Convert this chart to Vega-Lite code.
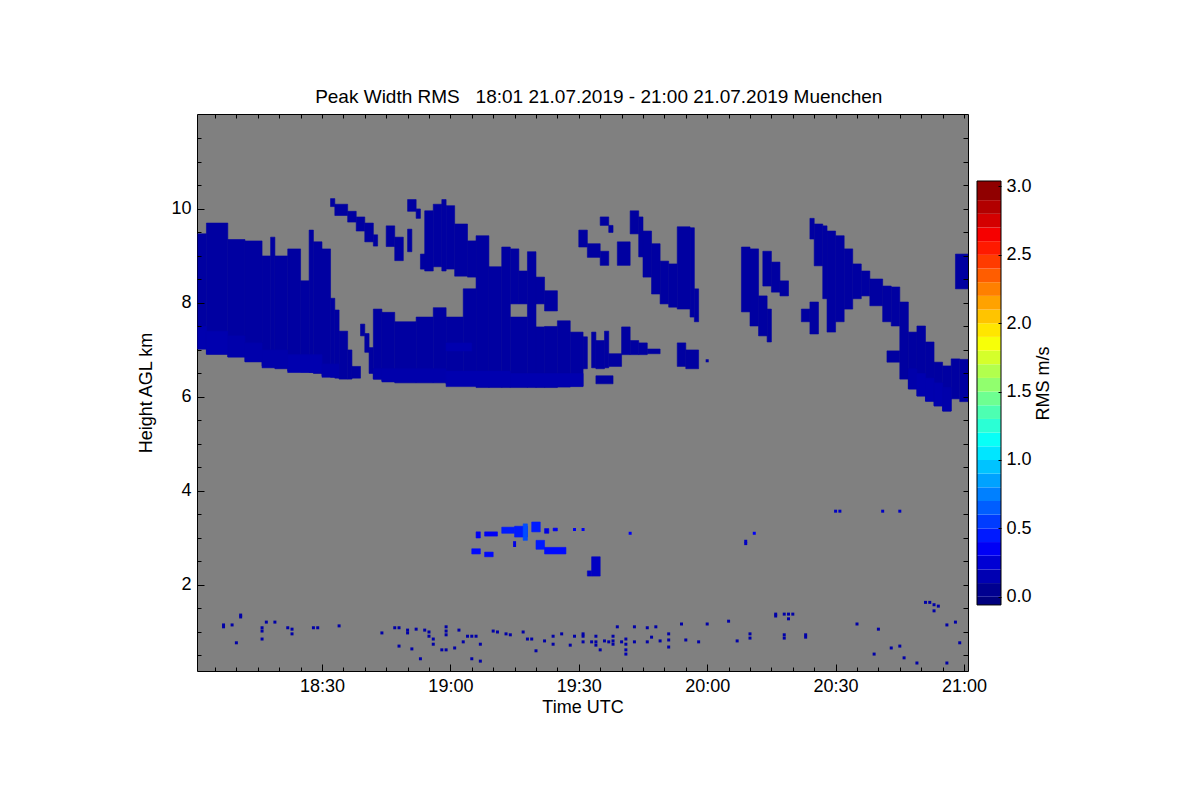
{
  "$schema": "https://vega.github.io/schema/vega-lite/v6.json",
  "padding": {"left": 137, "top": 88, "right": 5, "bottom": 5},
  "background": "white",
  "title": {
    "text": "Peak Width RMS\u00a0\u00a0\u00a018:01 21.07.2019 - 21:00 21.07.2019 Muenchen",
    "font": "Liberation Sans",
    "fontSize": 19,
    "fontWeight": "normal",
    "color": "black",
    "anchor": "middle",
    "dx": 4,
    "offset": 6
  },
  "bounds": "flush",
  "hconcat": [
    {
      "width": 771,
      "height": 557,
      "view": {"fill": "#808080", "stroke": "black", "strokeWidth": 1},
      "layer": [
        {
          "data": {
            "values": [
              {"t0": "18:01", "t1": "18:03", "lo": 7.02, "hi": 9.47, "rms": 0.1},
              {"t0": "18:03", "t1": "18:08", "lo": 6.91, "hi": 9.7, "rms": 0.1},
              {"t0": "18:08", "t1": "18:12", "lo": 6.85, "hi": 9.35, "rms": 0.1},
              {"t0": "18:12", "t1": "18:16", "lo": 6.75, "hi": 9.32, "rms": 0.1},
              {"t0": "18:16", "t1": "18:18", "lo": 6.66, "hi": 9.0, "rms": 0.1},
              {"t0": "18:18", "t1": "18:19", "lo": 6.64, "hi": 9.4, "rms": 0.1},
              {"t0": "18:19", "t1": "18:22", "lo": 6.6, "hi": 9.0, "rms": 0.1},
              {"t0": "18:22", "t1": "18:25", "lo": 6.55, "hi": 9.15, "rms": 0.1},
              {"t0": "18:25", "t1": "18:27", "lo": 6.53, "hi": 8.47, "rms": 0.1},
              {"t0": "18:27", "t1": "18:28", "lo": 6.52, "hi": 9.55, "rms": 0.1},
              {"t0": "18:28", "t1": "18:30", "lo": 6.5, "hi": 9.3, "rms": 0.1},
              {"t0": "18:30", "t1": "18:32", "lo": 6.45, "hi": 9.15, "rms": 0.1},
              {"t0": "18:32", "t1": "18:33", "lo": 6.42, "hi": 8.1, "rms": 0.1},
              {"t0": "18:33", "t1": "18:34", "lo": 6.4, "hi": 7.85, "rms": 0.1},
              {"t0": "18:34", "t1": "18:36", "lo": 6.38, "hi": 7.4, "rms": 0.1},
              {"t0": "18:36", "t1": "18:37", "lo": 6.38, "hi": 7.0, "rms": 0.1},
              {"t0": "18:37", "t1": "18:39", "lo": 6.4, "hi": 6.65, "rms": 0.1},
              {"t0": "18:39", "t1": "18:40", "lo": 7.3, "hi": 7.55, "rms": 0.1},
              {"t0": "18:40", "t1": "18:41", "lo": 6.95, "hi": 7.35, "rms": 0.1},
              {"t0": "18:41", "t1": "18:42", "lo": 6.5, "hi": 7.05, "rms": 0.1},
              {"t0": "18:32", "t1": "18:33", "lo": 10.05, "hi": 10.22, "rms": 0.1},
              {"t0": "18:33", "t1": "18:36", "lo": 9.86, "hi": 10.1, "rms": 0.1},
              {"t0": "18:36", "t1": "18:38", "lo": 9.72, "hi": 9.95, "rms": 0.1},
              {"t0": "18:38", "t1": "18:40", "lo": 9.53, "hi": 9.83, "rms": 0.1},
              {"t0": "18:40", "t1": "18:42", "lo": 9.3, "hi": 9.7, "rms": 0.1},
              {"t0": "18:42", "t1": "18:43", "lo": 9.21, "hi": 9.45, "rms": 0.1},
              {"t0": "18:45", "t1": "18:47", "lo": 9.2, "hi": 9.64, "rms": 0.1},
              {"t0": "18:47", "t1": "18:49", "lo": 8.9, "hi": 9.4, "rms": 0.1},
              {"t0": "18:50", "t1": "18:51", "lo": 9.09, "hi": 9.57, "rms": 0.1},
              {"t0": "18:50", "t1": "18:52", "lo": 9.95, "hi": 10.2, "rms": 0.1},
              {"t0": "18:52", "t1": "18:53", "lo": 9.8, "hi": 10.0, "rms": 0.1},
              {"t0": "18:53", "t1": "18:55", "lo": 8.72, "hi": 9.04, "rms": 0.1},
              {"t0": "18:42", "t1": "18:44", "lo": 6.38, "hi": 7.87, "rms": 0.1},
              {"t0": "18:44", "t1": "18:47", "lo": 6.34, "hi": 7.8, "rms": 0.1},
              {"t0": "18:47", "t1": "18:52", "lo": 6.3, "hi": 7.6, "rms": 0.1},
              {"t0": "18:52", "t1": "18:56", "lo": 6.3, "hi": 7.7, "rms": 0.1},
              {"t0": "18:56", "t1": "18:59", "lo": 6.3, "hi": 7.9, "rms": 0.1},
              {"t0": "18:59", "t1": "19:03", "lo": 6.28, "hi": 7.7, "rms": 0.1},
              {"t0": "19:03", "t1": "19:06", "lo": 6.25, "hi": 8.3, "rms": 0.1},
              {"t0": "19:06", "t1": "19:09", "lo": 6.2, "hi": 9.43, "rms": 0.1},
              {"t0": "19:09", "t1": "19:12", "lo": 6.2, "hi": 8.77, "rms": 0.1},
              {"t0": "19:12", "t1": "19:14", "lo": 6.2, "hi": 9.19, "rms": 0.1},
              {"t0": "19:14", "t1": "19:18", "lo": 6.2, "hi": 7.7, "rms": 0.1},
              {"t0": "19:14", "t1": "19:16", "lo": 7.98, "hi": 9.15, "rms": 0.1},
              {"t0": "19:16", "t1": "19:18", "lo": 7.98, "hi": 8.68, "rms": 0.1},
              {"t0": "19:18", "t1": "19:20", "lo": 6.2, "hi": 9.09, "rms": 0.1},
              {"t0": "19:20", "t1": "19:22", "lo": 6.2, "hi": 7.49, "rms": 0.1},
              {"t0": "19:20", "t1": "19:22", "lo": 7.98, "hi": 8.55, "rms": 0.1},
              {"t0": "19:22", "t1": "19:25", "lo": 6.2, "hi": 7.5, "rms": 0.1},
              {"t0": "19:22", "t1": "19:25", "lo": 7.83, "hi": 8.26, "rms": 0.1},
              {"t0": "19:25", "t1": "19:28", "lo": 6.21, "hi": 7.62, "rms": 0.1},
              {"t0": "19:28", "t1": "19:31", "lo": 6.23, "hi": 7.38, "rms": 0.1},
              {"t0": "19:31", "t1": "19:32", "lo": 6.6, "hi": 7.28, "rms": 0.1},
              {"t0": "18:54", "t1": "18:56", "lo": 8.68, "hi": 9.96, "rms": 0.1},
              {"t0": "18:56", "t1": "18:58", "lo": 8.77, "hi": 10.1, "rms": 0.1},
              {"t0": "18:58", "t1": "18:59", "lo": 8.68, "hi": 10.2, "rms": 0.1},
              {"t0": "18:59", "t1": "19:01", "lo": 8.72, "hi": 10.07, "rms": 0.1},
              {"t0": "19:01", "t1": "19:04", "lo": 8.57, "hi": 9.68, "rms": 0.1},
              {"t0": "19:04", "t1": "19:06", "lo": 8.55, "hi": 9.32, "rms": 0.1},
              {"t0": "19:30", "t1": "19:32", "lo": 9.19, "hi": 9.55, "rms": 0.1},
              {"t0": "19:32", "t1": "19:35", "lo": 8.97, "hi": 9.26, "rms": 0.1},
              {"t0": "19:35", "t1": "19:37", "lo": 8.8, "hi": 9.1, "rms": 0.1},
              {"t0": "19:35", "t1": "19:37", "lo": 9.65, "hi": 9.83, "rms": 0.1},
              {"t0": "19:37", "t1": "19:38", "lo": 9.5, "hi": 9.65, "rms": 0.1},
              {"t0": "19:39", "t1": "19:42", "lo": 8.8, "hi": 9.3, "rms": 0.1},
              {"t0": "19:42", "t1": "19:44", "lo": 9.47, "hi": 9.96, "rms": 0.1},
              {"t0": "19:44", "t1": "19:45", "lo": 8.98, "hi": 9.83, "rms": 0.1},
              {"t0": "19:45", "t1": "19:47", "lo": 8.55, "hi": 9.53, "rms": 0.1},
              {"t0": "19:47", "t1": "19:49", "lo": 8.19, "hi": 9.26, "rms": 0.1},
              {"t0": "19:49", "t1": "19:51", "lo": 7.98, "hi": 8.89, "rms": 0.1},
              {"t0": "19:51", "t1": "19:53", "lo": 7.91, "hi": 8.83, "rms": 0.1},
              {"t0": "19:53", "t1": "19:56", "lo": 7.87, "hi": 9.62, "rms": 0.1},
              {"t0": "19:56", "t1": "19:57", "lo": 7.7, "hi": 9.6, "rms": 0.1},
              {"t0": "19:57", "t1": "19:58", "lo": 7.6, "hi": 8.3, "rms": 0.1},
              {"t0": "19:33", "t1": "19:34", "lo": 6.62, "hi": 7.38, "rms": 0.1},
              {"t0": "19:34", "t1": "19:36", "lo": 6.6, "hi": 7.2, "rms": 0.1},
              {"t0": "19:36", "t1": "19:37", "lo": 6.62, "hi": 7.4, "rms": 0.1},
              {"t0": "19:37", "t1": "19:40", "lo": 6.65, "hi": 6.92, "rms": 0.1},
              {"t0": "19:34", "t1": "19:38", "lo": 6.28, "hi": 6.45, "rms": 0.1},
              {"t0": "19:40", "t1": "19:42", "lo": 6.9, "hi": 7.49, "rms": 0.1},
              {"t0": "19:42", "t1": "19:44", "lo": 6.9, "hi": 7.2, "rms": 0.1},
              {"t0": "19:44", "t1": "19:46", "lo": 6.9, "hi": 7.15, "rms": 0.1},
              {"t0": "19:46", "t1": "19:49", "lo": 6.92, "hi": 7.02, "rms": 0.1},
              {"t0": "19:53", "t1": "19:55", "lo": 6.65, "hi": 7.15, "rms": 0.1},
              {"t0": "19:55", "t1": "19:58", "lo": 6.6, "hi": 7.0, "rms": 0.1},
              {"t0": "20:08", "t1": "20:10", "lo": 7.81, "hi": 9.19, "rms": 0.1},
              {"t0": "20:10", "t1": "20:12", "lo": 7.51, "hi": 9.15, "rms": 0.1},
              {"t0": "20:12", "t1": "20:14", "lo": 7.3, "hi": 8.15, "rms": 0.1},
              {"t0": "20:14", "t1": "20:15", "lo": 7.17, "hi": 7.87, "rms": 0.1},
              {"t0": "20:13", "t1": "20:15", "lo": 8.36, "hi": 9.1, "rms": 0.1},
              {"t0": "20:15", "t1": "20:17", "lo": 8.23, "hi": 8.87, "rms": 0.1},
              {"t0": "20:17", "t1": "20:19", "lo": 8.15, "hi": 8.47, "rms": 0.1},
              {"t0": "20:22", "t1": "20:24", "lo": 7.6, "hi": 7.87, "rms": 0.1},
              {"t0": "20:24", "t1": "20:26", "lo": 7.34, "hi": 8.02, "rms": 0.1},
              {"t0": "20:24", "t1": "20:25", "lo": 9.36, "hi": 9.8, "rms": 0.1},
              {"t0": "20:25", "t1": "20:27", "lo": 8.79, "hi": 9.68, "rms": 0.1},
              {"t0": "20:27", "t1": "20:28", "lo": 8.09, "hi": 9.64, "rms": 0.1},
              {"t0": "20:28", "t1": "20:30", "lo": 7.38, "hi": 9.53, "rms": 0.1},
              {"t0": "20:30", "t1": "20:32", "lo": 7.6, "hi": 9.43, "rms": 0.1},
              {"t0": "20:32", "t1": "20:34", "lo": 7.87, "hi": 9.15, "rms": 0.1},
              {"t0": "20:34", "t1": "20:36", "lo": 8.09, "hi": 8.83, "rms": 0.1},
              {"t0": "20:36", "t1": "20:38", "lo": 8.15, "hi": 8.68, "rms": 0.1},
              {"t0": "20:38", "t1": "20:41", "lo": 7.94, "hi": 8.51, "rms": 0.1},
              {"t0": "20:41", "t1": "20:43", "lo": 7.6, "hi": 8.36, "rms": 0.1},
              {"t0": "20:43", "t1": "20:45", "lo": 7.51, "hi": 8.34, "rms": 0.1},
              {"t0": "20:42", "t1": "20:45", "lo": 6.74, "hi": 6.98, "rms": 0.1},
              {"t0": "20:45", "t1": "20:47", "lo": 6.38, "hi": 8.02, "rms": 0.1},
              {"t0": "20:47", "t1": "20:49", "lo": 6.17, "hi": 7.38, "rms": 0.1},
              {"t0": "20:49", "t1": "20:51", "lo": 6.02, "hi": 7.51, "rms": 0.1},
              {"t0": "20:51", "t1": "20:53", "lo": 5.91, "hi": 7.17, "rms": 0.1},
              {"t0": "20:53", "t1": "20:55", "lo": 5.81, "hi": 6.74, "rms": 0.1},
              {"t0": "20:55", "t1": "20:57", "lo": 5.7, "hi": 6.66, "rms": 0.1},
              {"t0": "20:57", "t1": "20:59", "lo": 5.96, "hi": 6.81, "rms": 0.1},
              {"t0": "20:59", "t1": "21:01", "lo": 5.9, "hi": 6.8, "rms": 0.1},
              {"t0": "20:58", "t1": "21:01", "lo": 8.3, "hi": 9.04, "rms": 0.1}
            ],
            "format": {"parse": {"t0": "utc:'%H:%M'", "t1": "utc:'%H:%M'"}}
          },
          "mark": {"type": "rect", "clip": true, "strokeWidth": 0.6},
          "encoding": {
            "x": {
              "field": "t0",
              "type": "temporal",
              "scale": {
                "type": "utc",
                "nice": false,
                "domain": [
                  {"year": 1900, "month": 1, "date": 1, "hours": 18, "minutes": 0, "seconds": 48, "utc": true},
                  {"year": 1900, "month": 1, "date": 1, "hours": 21, "minutes": 0, "seconds": 56, "utc": true}
                ]
              },
              "axis": {
                "orient": "bottom",
                "title": "Time UTC",
                "values": [
                  {"year": 1900, "month": 1, "date": 1, "hours": 18, "minutes": 30, "utc": true},
                  {"year": 1900, "month": 1, "date": 1, "hours": 19, "minutes": 0, "utc": true},
                  {"year": 1900, "month": 1, "date": 1, "hours": 19, "minutes": 30, "utc": true},
                  {"year": 1900, "month": 1, "date": 1, "hours": 20, "minutes": 0, "utc": true},
                  {"year": 1900, "month": 1, "date": 1, "hours": 20, "minutes": 30, "utc": true},
                  {"year": 1900, "month": 1, "date": 1, "hours": 21, "minutes": 0, "utc": true}
                ],
                "format": "%H:%M",
                "offset": -7,
                "tickSize": 7,
                "labelPadding": 6,
                "titlePadding": 3,
                "zindex": 1
              }
            },
            "x2": {"field": "t1"},
            "y": {
              "field": "lo",
              "type": "quantitative",
              "scale": {"domain": [0.17, 12.02], "nice": false, "zero": false},
              "axis": {
                "orient": "left",
                "title": "Height AGL km",
                "values": [2, 4, 6, 8, 10],
                "offset": -7,
                "tickSize": 7,
                "labelPadding": 6,
                "titlePadding": 15,
                "zindex": 1
              }
            },
            "y2": {"field": "hi"},
            "color": {
              "field": "rms",
              "type": "quantitative",
              "scale": {
                "type": "linear",
                "domain": [0, 0.375, 1.125, 1.875, 2.625, 3],
                "range": ["#00007f", "#0000ff", "#00ffff", "#ffff00", "#ff0000", "#7f0000"],
                "interpolate": "rgb",
                "clamp": true
              },
              "legend": null
            },
            "stroke": {
              "field": "rms",
              "type": "quantitative",
              "scale": {
                "type": "linear",
                "domain": [0, 0.375, 1.125, 1.875, 2.625, 3],
                "range": ["#00007f", "#0000ff", "#00ffff", "#ffff00", "#ff0000", "#7f0000"],
                "interpolate": "rgb",
                "clamp": true
              },
              "legend": null
            }
          }
        },
        {
          "data": {
            "values": [
              {"t0": "18:01", "t1": "18:03", "lo": 7.02, "hi": 7.5, "rms": 0.14},
              {"t0": "18:03", "t1": "18:08", "lo": 6.91, "hi": 7.4, "rms": 0.14},
              {"t0": "18:08", "t1": "18:12", "lo": 6.85, "hi": 7.3, "rms": 0.13},
              {"t0": "18:12", "t1": "18:16", "lo": 6.75, "hi": 7.15, "rms": 0.13},
              {"t0": "18:16", "t1": "18:22", "lo": 6.62, "hi": 7.0, "rms": 0.13},
              {"t0": "18:22", "t1": "18:30", "lo": 6.52, "hi": 6.9, "rms": 0.14},
              {"t0": "18:30", "t1": "18:34", "lo": 6.42, "hi": 6.7, "rms": 0.13},
              {"t0": "18:42", "t1": "18:44", "lo": 6.38, "hi": 6.6, "rms": 0.13},
              {"t0": "18:44", "t1": "18:59", "lo": 6.32, "hi": 6.6, "rms": 0.13},
              {"t0": "18:59", "t1": "19:14", "lo": 6.22, "hi": 6.55, "rms": 0.14},
              {"t0": "18:59", "t1": "19:05", "lo": 6.98, "hi": 7.15, "rms": 0.14},
              {"t0": "19:14", "t1": "19:31", "lo": 6.22, "hi": 6.5, "rms": 0.14},
              {"t0": "20:47", "t1": "20:49", "lo": 6.17, "hi": 6.6, "rms": 0.13},
              {"t0": "20:49", "t1": "20:51", "lo": 6.02, "hi": 6.5, "rms": 0.14},
              {"t0": "20:51", "t1": "20:53", "lo": 5.91, "hi": 6.4, "rms": 0.14},
              {"t0": "20:53", "t1": "20:55", "lo": 5.81, "hi": 6.3, "rms": 0.14},
              {"t0": "20:55", "t1": "20:57", "lo": 5.7, "hi": 6.2, "rms": 0.13},
              {"t0": "19:05", "t1": "19:07", "lo": 2.66, "hi": 2.77, "rms": 0.4},
              {"t0": "19:06", "t1": "19:07", "lo": 3.0, "hi": 3.13, "rms": 0.35},
              {"t0": "19:08", "t1": "19:10", "lo": 2.6, "hi": 2.7, "rms": 0.4},
              {"t0": "19:08", "t1": "19:11", "lo": 3.04, "hi": 3.13, "rms": 0.35},
              {"t0": "19:12", "t1": "19:15", "lo": 3.1, "hi": 3.23, "rms": 0.45},
              {"t0": "19:15", "t1": "19:18", "lo": 3.02, "hi": 3.25, "rms": 0.45},
              {"t0": "19:17", "t1": "19:18", "lo": 2.95, "hi": 3.3, "rms": 0.6},
              {"t0": "19:19", "t1": "19:21", "lo": 3.13, "hi": 3.34, "rms": 0.45},
              {"t0": "19:22", "t1": "19:23", "lo": 3.1, "hi": 3.2, "rms": 0.3},
              {"t0": "19:24", "t1": "19:25", "lo": 3.15, "hi": 3.21, "rms": 0.35},
              {"t0": "19:20", "t1": "19:22", "lo": 2.76, "hi": 2.95, "rms": 0.45},
              {"t0": "19:22", "t1": "19:27", "lo": 2.66, "hi": 2.8, "rms": 0.4},
              {"t0": "19:33", "t1": "19:35", "lo": 2.19, "hi": 2.6, "rms": 0.2},
              {"t0": "19:32", "t1": "19:33", "lo": 2.19, "hi": 2.3, "rms": 0.2}
            ],
            "format": {"parse": {"t0": "utc:'%H:%M'", "t1": "utc:'%H:%M'"}}
          },
          "mark": {"type": "rect", "clip": true, "strokeWidth": 0.6},
          "encoding": {
            "x": {
              "field": "t0",
              "type": "temporal",
              "axis": {
                "orient": "bottom",
                "title": null,
                "labels": false,
                "values": [
                  {"year": 1900, "month": 1, "date": 1, "hours": 18, "minutes": 5, "utc": true},
                  {"year": 1900, "month": 1, "date": 1, "hours": 18, "minutes": 10, "utc": true},
                  {"year": 1900, "month": 1, "date": 1, "hours": 18, "minutes": 15, "utc": true},
                  {"year": 1900, "month": 1, "date": 1, "hours": 18, "minutes": 20, "utc": true},
                  {"year": 1900, "month": 1, "date": 1, "hours": 18, "minutes": 25, "utc": true},
                  {"year": 1900, "month": 1, "date": 1, "hours": 18, "minutes": 35, "utc": true},
                  {"year": 1900, "month": 1, "date": 1, "hours": 18, "minutes": 40, "utc": true},
                  {"year": 1900, "month": 1, "date": 1, "hours": 18, "minutes": 45, "utc": true},
                  {"year": 1900, "month": 1, "date": 1, "hours": 18, "minutes": 50, "utc": true},
                  {"year": 1900, "month": 1, "date": 1, "hours": 18, "minutes": 55, "utc": true},
                  {"year": 1900, "month": 1, "date": 1, "hours": 19, "minutes": 5, "utc": true},
                  {"year": 1900, "month": 1, "date": 1, "hours": 19, "minutes": 10, "utc": true},
                  {"year": 1900, "month": 1, "date": 1, "hours": 19, "minutes": 15, "utc": true},
                  {"year": 1900, "month": 1, "date": 1, "hours": 19, "minutes": 20, "utc": true},
                  {"year": 1900, "month": 1, "date": 1, "hours": 19, "minutes": 25, "utc": true},
                  {"year": 1900, "month": 1, "date": 1, "hours": 19, "minutes": 35, "utc": true},
                  {"year": 1900, "month": 1, "date": 1, "hours": 19, "minutes": 40, "utc": true},
                  {"year": 1900, "month": 1, "date": 1, "hours": 19, "minutes": 45, "utc": true},
                  {"year": 1900, "month": 1, "date": 1, "hours": 19, "minutes": 50, "utc": true},
                  {"year": 1900, "month": 1, "date": 1, "hours": 19, "minutes": 55, "utc": true},
                  {"year": 1900, "month": 1, "date": 1, "hours": 20, "minutes": 5, "utc": true},
                  {"year": 1900, "month": 1, "date": 1, "hours": 20, "minutes": 10, "utc": true},
                  {"year": 1900, "month": 1, "date": 1, "hours": 20, "minutes": 15, "utc": true},
                  {"year": 1900, "month": 1, "date": 1, "hours": 20, "minutes": 20, "utc": true},
                  {"year": 1900, "month": 1, "date": 1, "hours": 20, "minutes": 25, "utc": true},
                  {"year": 1900, "month": 1, "date": 1, "hours": 20, "minutes": 35, "utc": true},
                  {"year": 1900, "month": 1, "date": 1, "hours": 20, "minutes": 40, "utc": true},
                  {"year": 1900, "month": 1, "date": 1, "hours": 20, "minutes": 45, "utc": true},
                  {"year": 1900, "month": 1, "date": 1, "hours": 20, "minutes": 50, "utc": true},
                  {"year": 1900, "month": 1, "date": 1, "hours": 20, "minutes": 55, "utc": true}
                ],
                "offset": -4,
                "tickSize": 4,
                "zindex": 1
              }
            },
            "x2": {"field": "t1"},
            "y": {
              "field": "lo",
              "type": "quantitative",
              "axis": {
                "orient": "left",
                "title": null,
                "labels": false,
                "values": [0.5, 1, 1.5, 2.5, 3, 3.5, 4.5, 5, 5.5, 6.5, 7, 7.5, 8.5, 9, 9.5, 10.5, 11, 11.5],
                "offset": -4,
                "tickSize": 4,
                "zindex": 1
              }
            },
            "y2": {"field": "hi"},
            "color": {"field": "rms", "type": "quantitative", "legend": null},
            "stroke": {"field": "rms", "type": "quantitative", "legend": null}
          }
        },
        {
          "data": {
            "values": [
              {"t": "18:07", "h": 1.15, "rms": 0.12}, {"t": "18:07", "h": 1.11, "rms": 0.12},
              {"t": "18:09", "h": 1.15, "rms": 0.12}, {"t": "18:11", "h": 1.32, "rms": 0.12},
              {"t": "18:11", "h": 1.36, "rms": 0.12}, {"t": "18:10", "h": 0.77, "rms": 0.12},
              {"t": "18:16", "h": 1.09, "rms": 0.12}, {"t": "18:16", "h": 1.02, "rms": 0.12},
              {"t": "18:16", "h": 0.85, "rms": 0.12}, {"t": "18:17", "h": 1.21, "rms": 0.12},
              {"t": "18:19", "h": 1.21, "rms": 0.12}, {"t": "18:22", "h": 1.09, "rms": 0.12},
              {"t": "18:23", "h": 1.06, "rms": 0.12}, {"t": "18:23", "h": 0.96, "rms": 0.12},
              {"t": "18:28", "h": 1.09, "rms": 0.12}, {"t": "18:29", "h": 1.09, "rms": 0.12},
              {"t": "18:34", "h": 1.13, "rms": 0.12}, {"t": "18:44", "h": 0.98, "rms": 0.12},
              {"t": "18:47", "h": 1.09, "rms": 0.12}, {"t": "18:48", "h": 1.09, "rms": 0.12},
              {"t": "18:50", "h": 1.04, "rms": 0.12}, {"t": "18:50", "h": 0.98, "rms": 0.12},
              {"t": "18:52", "h": 1.06, "rms": 0.12}, {"t": "18:54", "h": 1.04, "rms": 0.12},
              {"t": "18:55", "h": 1.0, "rms": 0.12}, {"t": "18:55", "h": 0.91, "rms": 0.12},
              {"t": "18:56", "h": 0.85, "rms": 0.12}, {"t": "18:56", "h": 0.74, "rms": 0.12},
              {"t": "18:59", "h": 1.02, "rms": 0.12}, {"t": "18:59", "h": 0.94, "rms": 0.12},
              {"t": "18:59", "h": 1.11, "rms": 0.12}, {"t": "19:02", "h": 1.04, "rms": 0.12},
              {"t": "19:03", "h": 0.79, "rms": 0.12}, {"t": "19:04", "h": 0.91, "rms": 0.12},
              {"t": "19:05", "h": 0.91, "rms": 0.12}, {"t": "19:06", "h": 0.91, "rms": 0.12},
              {"t": "19:07", "h": 0.74, "rms": 0.12}, {"t": "19:10", "h": 1.02, "rms": 0.12},
              {"t": "19:11", "h": 1.0, "rms": 0.12}, {"t": "19:13", "h": 0.96, "rms": 0.12},
              {"t": "19:14", "h": 0.94, "rms": 0.12}, {"t": "19:17", "h": 1.0, "rms": 0.12},
              {"t": "19:18", "h": 0.85, "rms": 0.12}, {"t": "19:19", "h": 0.85, "rms": 0.12},
              {"t": "19:20", "h": 0.6, "rms": 0.12}, {"t": "19:22", "h": 0.81, "rms": 0.12},
              {"t": "19:24", "h": 0.91, "rms": 0.12}, {"t": "19:24", "h": 0.74, "rms": 0.12},
              {"t": "19:26", "h": 0.96, "rms": 0.12}, {"t": "19:28", "h": 0.72, "rms": 0.12},
              {"t": "19:29", "h": 0.91, "rms": 0.12}, {"t": "19:31", "h": 0.91, "rms": 0.12},
              {"t": "18:53", "h": 0.43, "rms": 0.12}, {"t": "18:51", "h": 0.64, "rms": 0.12},
              {"t": "18:48", "h": 0.7, "rms": 0.12}, {"t": "19:05", "h": 0.43, "rms": 0.12},
              {"t": "19:07", "h": 0.38, "rms": 0.12}, {"t": "18:58", "h": 0.62, "rms": 0.12},
              {"t": "18:59", "h": 0.62, "rms": 0.12}, {"t": "19:01", "h": 0.66, "rms": 0.12},
              {"t": "19:31", "h": 0.96, "rms": 0.12}, {"t": "19:31", "h": 0.79, "rms": 0.12},
              {"t": "19:33", "h": 0.79, "rms": 0.12}, {"t": "19:34", "h": 0.91, "rms": 0.12},
              {"t": "19:34", "h": 0.79, "rms": 0.12}, {"t": "19:34", "h": 0.72, "rms": 0.12},
              {"t": "19:35", "h": 0.62, "rms": 0.12}, {"t": "19:36", "h": 0.81, "rms": 0.12},
              {"t": "19:38", "h": 0.91, "rms": 0.12}, {"t": "19:38", "h": 0.81, "rms": 0.12},
              {"t": "19:38", "h": 0.74, "rms": 0.12}, {"t": "19:37", "h": 0.79, "rms": 0.12},
              {"t": "19:39", "h": 1.11, "rms": 0.12}, {"t": "19:40", "h": 0.79, "rms": 0.12},
              {"t": "19:41", "h": 0.85, "rms": 0.12}, {"t": "19:41", "h": 0.74, "rms": 0.12},
              {"t": "19:41", "h": 0.62, "rms": 0.15}, {"t": "19:41", "h": 0.53, "rms": 0.15},
              {"t": "19:43", "h": 1.11, "rms": 0.12}, {"t": "19:43", "h": 0.79, "rms": 0.12},
              {"t": "19:46", "h": 1.09, "rms": 0.12}, {"t": "19:46", "h": 0.79, "rms": 0.12},
              {"t": "19:47", "h": 0.89, "rms": 0.12}, {"t": "19:48", "h": 1.11, "rms": 0.12},
              {"t": "19:49", "h": 0.81, "rms": 0.12}, {"t": "19:51", "h": 0.96, "rms": 0.12},
              {"t": "19:51", "h": 0.83, "rms": 0.12}, {"t": "19:51", "h": 0.68, "rms": 0.12},
              {"t": "19:54", "h": 1.17, "rms": 0.12}, {"t": "19:55", "h": 0.83, "rms": 0.12},
              {"t": "19:58", "h": 0.79, "rms": 0.12}, {"t": "20:00", "h": 1.17, "rms": 0.12},
              {"t": "20:05", "h": 1.23, "rms": 0.12}, {"t": "20:07", "h": 0.81, "rms": 0.12},
              {"t": "20:10", "h": 0.96, "rms": 0.12}, {"t": "20:10", "h": 0.87, "rms": 0.12},
              {"t": "20:16", "h": 1.38, "rms": 0.12}, {"t": "20:16", "h": 1.34, "rms": 0.12},
              {"t": "20:18", "h": 1.38, "rms": 0.12}, {"t": "20:19", "h": 1.38, "rms": 0.12},
              {"t": "20:19", "h": 1.28, "rms": 0.12}, {"t": "20:20", "h": 1.38, "rms": 0.12},
              {"t": "20:18", "h": 0.94, "rms": 0.12}, {"t": "20:18", "h": 0.87, "rms": 0.12},
              {"t": "20:23", "h": 0.94, "rms": 0.12}, {"t": "20:23", "h": 0.89, "rms": 0.12},
              {"t": "20:35", "h": 1.17, "rms": 0.12}, {"t": "20:40", "h": 1.06, "rms": 0.12},
              {"t": "20:39", "h": 0.53, "rms": 0.12}, {"t": "20:43", "h": 0.66, "rms": 0.12},
              {"t": "20:45", "h": 0.7, "rms": 0.12}, {"t": "20:46", "h": 0.45, "rms": 0.12},
              {"t": "20:49", "h": 0.34, "rms": 0.12}, {"t": "20:56", "h": 0.34, "rms": 0.12},
              {"t": "20:56", "h": 1.15, "rms": 0.12}, {"t": "20:58", "h": 1.21, "rms": 0.12},
              {"t": "20:59", "h": 0.77, "rms": 0.12},
              {"t": "19:29", "h": 3.18, "rms": 0.35}, {"t": "19:31", "h": 3.18, "rms": 0.35},
              {"t": "19:42", "h": 3.1, "rms": 0.35}, {"t": "20:11", "h": 3.1, "rms": 0.35},
              {"t": "20:09", "h": 2.93, "rms": 0.2}, {"t": "20:09", "h": 2.88, "rms": 0.2},
              {"t": "19:15", "h": 2.9, "rms": 0.3}, {"t": "19:15", "h": 2.84, "rms": 0.3},
              {"t": "20:30", "h": 3.57, "rms": 0.2}, {"t": "20:31", "h": 3.57, "rms": 0.2},
              {"t": "20:41", "h": 3.57, "rms": 0.2}, {"t": "20:45", "h": 3.57, "rms": 0.2},
              {"t": "20:51", "h": 1.63, "rms": 0.12}, {"t": "20:52", "h": 1.63, "rms": 0.12},
              {"t": "20:53", "h": 1.58, "rms": 0.12}, {"t": "20:54", "h": 1.55, "rms": 0.12},
              {"t": "20:53", "h": 1.45, "rms": 0.12}, {"t": "20:00", "h": 6.77, "rms": 0.1}
            ],
            "format": {"parse": {"t": "utc:'%H:%M'"}}
          },
          "mark": {"type": "square", "size": 9, "opacity": 1, "clip": true},
          "encoding": {
            "x": {
              "field": "t",
              "type": "temporal",
              "axis": {
                "orient": "top",
                "title": null,
                "labels": false,
                "values": [
                  {"year": 1900, "month": 1, "date": 1, "hours": 18, "minutes": 5, "utc": true},
                  {"year": 1900, "month": 1, "date": 1, "hours": 18, "minutes": 10, "utc": true},
                  {"year": 1900, "month": 1, "date": 1, "hours": 18, "minutes": 15, "utc": true},
                  {"year": 1900, "month": 1, "date": 1, "hours": 18, "minutes": 20, "utc": true},
                  {"year": 1900, "month": 1, "date": 1, "hours": 18, "minutes": 25, "utc": true},
                  {"year": 1900, "month": 1, "date": 1, "hours": 18, "minutes": 30, "utc": true},
                  {"year": 1900, "month": 1, "date": 1, "hours": 18, "minutes": 35, "utc": true},
                  {"year": 1900, "month": 1, "date": 1, "hours": 18, "minutes": 40, "utc": true},
                  {"year": 1900, "month": 1, "date": 1, "hours": 18, "minutes": 45, "utc": true},
                  {"year": 1900, "month": 1, "date": 1, "hours": 18, "minutes": 50, "utc": true},
                  {"year": 1900, "month": 1, "date": 1, "hours": 18, "minutes": 55, "utc": true},
                  {"year": 1900, "month": 1, "date": 1, "hours": 19, "minutes": 0, "utc": true},
                  {"year": 1900, "month": 1, "date": 1, "hours": 19, "minutes": 5, "utc": true},
                  {"year": 1900, "month": 1, "date": 1, "hours": 19, "minutes": 10, "utc": true},
                  {"year": 1900, "month": 1, "date": 1, "hours": 19, "minutes": 15, "utc": true},
                  {"year": 1900, "month": 1, "date": 1, "hours": 19, "minutes": 20, "utc": true},
                  {"year": 1900, "month": 1, "date": 1, "hours": 19, "minutes": 25, "utc": true},
                  {"year": 1900, "month": 1, "date": 1, "hours": 19, "minutes": 30, "utc": true},
                  {"year": 1900, "month": 1, "date": 1, "hours": 19, "minutes": 35, "utc": true},
                  {"year": 1900, "month": 1, "date": 1, "hours": 19, "minutes": 40, "utc": true},
                  {"year": 1900, "month": 1, "date": 1, "hours": 19, "minutes": 45, "utc": true},
                  {"year": 1900, "month": 1, "date": 1, "hours": 19, "minutes": 50, "utc": true},
                  {"year": 1900, "month": 1, "date": 1, "hours": 19, "minutes": 55, "utc": true},
                  {"year": 1900, "month": 1, "date": 1, "hours": 20, "minutes": 0, "utc": true},
                  {"year": 1900, "month": 1, "date": 1, "hours": 20, "minutes": 5, "utc": true},
                  {"year": 1900, "month": 1, "date": 1, "hours": 20, "minutes": 10, "utc": true},
                  {"year": 1900, "month": 1, "date": 1, "hours": 20, "minutes": 15, "utc": true},
                  {"year": 1900, "month": 1, "date": 1, "hours": 20, "minutes": 20, "utc": true},
                  {"year": 1900, "month": 1, "date": 1, "hours": 20, "minutes": 25, "utc": true},
                  {"year": 1900, "month": 1, "date": 1, "hours": 20, "minutes": 30, "utc": true},
                  {"year": 1900, "month": 1, "date": 1, "hours": 20, "minutes": 35, "utc": true},
                  {"year": 1900, "month": 1, "date": 1, "hours": 20, "minutes": 40, "utc": true},
                  {"year": 1900, "month": 1, "date": 1, "hours": 20, "minutes": 45, "utc": true},
                  {"year": 1900, "month": 1, "date": 1, "hours": 20, "minutes": 50, "utc": true},
                  {"year": 1900, "month": 1, "date": 1, "hours": 20, "minutes": 55, "utc": true},
                  {"year": 1900, "month": 1, "date": 1, "hours": 21, "minutes": 0, "utc": true}
                ],
                "offset": -4,
                "tickSize": 4,
                "zindex": 1
              }
            },
            "y": {
              "field": "h",
              "type": "quantitative",
              "axis": {
                "orient": "right",
                "title": null,
                "labels": false,
                "values": [0.5, 1, 1.5, 2, 2.5, 3, 3.5, 4, 4.5, 5, 5.5, 6, 6.5, 7, 7.5, 8, 8.5, 9, 9.5, 10, 10.5, 11, 11.5],
                "offset": -5,
                "tickSize": 5,
                "zindex": 1
              }
            },
            "color": {"field": "rms", "type": "quantitative", "legend": null}
          }
        }
      ],
      "resolve": {"axis": {"x": "independent", "y": "independent"}}
    },
    {
      "width": 24,
      "height": 557,
      "view": {"stroke": null},
      "layer": [
        {
          "data": {
            "values": [
              {"lo": -0.06, "hi": 0.0, "rms": 0.0}, {"lo": 0.0, "hi": 0.1, "rms": 0.05},
              {"lo": 0.1, "hi": 0.2, "rms": 0.15}, {"lo": 0.2, "hi": 0.3, "rms": 0.25},
              {"lo": 0.3, "hi": 0.4, "rms": 0.35}, {"lo": 0.4, "hi": 0.5, "rms": 0.45},
              {"lo": 0.5, "hi": 0.6, "rms": 0.55}, {"lo": 0.6, "hi": 0.7, "rms": 0.65},
              {"lo": 0.7, "hi": 0.8, "rms": 0.75}, {"lo": 0.8, "hi": 0.9, "rms": 0.85},
              {"lo": 0.9, "hi": 1.0, "rms": 0.95}, {"lo": 1.0, "hi": 1.1, "rms": 1.05},
              {"lo": 1.1, "hi": 1.2, "rms": 1.15}, {"lo": 1.2, "hi": 1.3, "rms": 1.25},
              {"lo": 1.3, "hi": 1.4, "rms": 1.35}, {"lo": 1.4, "hi": 1.5, "rms": 1.45},
              {"lo": 1.5, "hi": 1.6, "rms": 1.55}, {"lo": 1.6, "hi": 1.7, "rms": 1.65},
              {"lo": 1.7, "hi": 1.8, "rms": 1.75}, {"lo": 1.8, "hi": 1.9, "rms": 1.85},
              {"lo": 1.9, "hi": 2.0, "rms": 1.95}, {"lo": 2.0, "hi": 2.1, "rms": 2.05},
              {"lo": 2.1, "hi": 2.2, "rms": 2.15}, {"lo": 2.2, "hi": 2.3, "rms": 2.25},
              {"lo": 2.3, "hi": 2.4, "rms": 2.35}, {"lo": 2.4, "hi": 2.5, "rms": 2.45},
              {"lo": 2.5, "hi": 2.6, "rms": 2.55}, {"lo": 2.6, "hi": 2.7, "rms": 2.65},
              {"lo": 2.7, "hi": 2.8, "rms": 2.75}, {"lo": 2.8, "hi": 2.9, "rms": 2.85},
              {"lo": 2.9, "hi": 3.04, "rms": 2.95}
            ]
          },
          "mark": {"type": "rect"},
          "encoding": {
            "y": {
              "field": "lo",
              "type": "quantitative",
              "scale": {"domain": [-0.543, 3.53], "nice": false, "zero": false},
              "axis": {
                "orient": "right",
                "title": "RMS m/s",
                "titleAngle": 270,
                "titleAlign": "center",
                "titleBaseline": "middle",
                "titleX": 45,
                "titleY": 269,
                "values": [0, 0.5, 1, 1.5, 2, 2.5, 3],
                "format": ".1f",
                "offset": -3,
                "tickSize": 3,
                "labelPadding": 5,
                "zindex": 1
              }
            },
            "y2": {"field": "hi"},
            "color": {
              "field": "rms",
              "type": "quantitative",
              "scale": {
                "type": "linear",
                "domain": [0, 0.375, 1.125, 1.875, 2.625, 3],
                "range": ["#00007f", "#0000ff", "#00ffff", "#ffff00", "#ff0000", "#7f0000"],
                "interpolate": "rgb",
                "clamp": true
              },
              "legend": null
            }
          }
        },
        {
          "data": {"values": [{"lo": -0.06, "hi": 3.04}]},
          "mark": {"type": "rect", "fillOpacity": 0, "stroke": "black", "strokeWidth": 1},
          "encoding": {
            "y": {"field": "lo", "type": "quantitative"},
            "y2": {"field": "hi"}
          }
        }
      ]
    }
  ],
  "spacing": 9,
  "resolve": {"scale": {"y": "independent", "color": "independent", "x": "independent"}},
  "config": {
    "font": "Liberation Sans",
    "axis": {
      "labelFont": "Liberation Sans",
      "labelFontSize": 18,
      "labelColor": "black",
      "titleFont": "Liberation Sans",
      "titleFontSize": 18,
      "titleFontWeight": "normal",
      "titleColor": "black",
      "tickColor": "black",
      "tickWidth": 1,
      "domain": false,
      "grid": false,
      "labelOverlap": false,
      "labelFlush": false
    }
  }
}
